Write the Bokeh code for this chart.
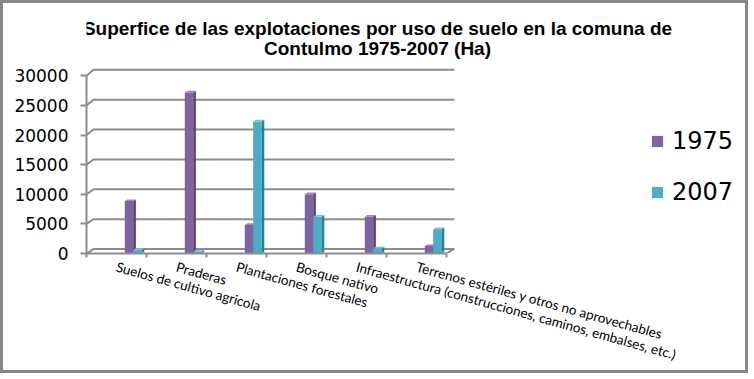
from bokeh.plotting import figure
from bokeh.models import Range1d, FixedTicker, Label, Legend, LegendItem
from bokeh.embed import file_html
from bokeh.resources import INLINE

# ---------------- data ----------------
TITLE_1 = "Superfice de las explotaciones por uso de suelo en la comuna de"
TITLE_2 = "Contulmo 1975-2007 (Ha)"
CATEGORIES = [
    "Suelos de cultivo agricola",
    "Praderas",
    "Plantaciones forestales",
    "Bosque nativo",
    "Infraestructura (construcciones, caminos, embalses, etc.)",
    "Terrenos estériles y otros no aprovechables",
]
SERIES = ["1975", "2007"]
V1975 = [8850, 27200, 4800, 10000, 6200, 1250]
V2007 = [600, 300, 22300, 6200, 850, 4100]
Y_TICKS = [0, 5000, 10000, 15000, 20000, 25000, 30000]

# ---------------- geometry (reference pixels) ----------------
PAGE_OFF = 3           # 3px CSS border
FL, FR, FT, FB = 86, 751, 3, 253
PX_X = 60.0            # px per category
Y_MAX_PX = 75.3        # pixel row of the top tick
PX_Y = (FB - Y_MAX_PX) / Y_TICKS[-1]


def dx(px):
    return (px - FL) / PX_X


def dy(py):
    return (FB - py) / PX_Y


W, H = 748, 373
GRID = "#8c8c8c"
COLORS = {
    "1975": ("#8064A2", "#5C4878", "#9C86BA"),
    "2007": ("#4BACC6", "#2E8096", "#72C3D8"),
}

p = figure(
    width=W, height=H, output_backend="svg", toolbar_location=None,
    x_range=Range1d(dx(FL), dx(FR)), y_range=Range1d(dy(FB), dy(FT)),
    min_border_left=FL - PAGE_OFF, min_border_right=W - (FR - PAGE_OFF),
    min_border_top=FT - PAGE_OFF, min_border_bottom=H - (FB - PAGE_OFF),
    background_fill_color="white", border_fill_color="white",
    outline_line_color=None,
    styles={"border": "3px solid #878787"},
)
p.xgrid.visible = False
p.ygrid.visible = False

n = len(CATEGORIES)
DEPTH_X = 7.0 / PX_X
BACK_END = dx(454)

# back wall gridlines
gx, gy = [], []
for t in Y_TICKS:
    off = (4.4 + 1.6 * t / Y_TICKS[-1]) / PX_Y
    gx.append([0, DEPTH_X, BACK_END])
    gy.append([t, t + off, t + off])
p.multi_line(gx, gy, line_color=GRID, line_width=2)
# floor right edge
off0 = 4.4 / PX_Y
p.segment(x0=[n], y0=[Y_TICKS[0]], x1=[n + DEPTH_X], y1=[Y_TICKS[0] + off0],
          line_color=GRID, line_width=2)

# bars (pseudo 3-D)
BAR_W = 8.4 / PX_X
START = (124.3 - FL) / PX_X
SIDE_DX = 2.7 / PX_X
SIDE_DY = 1.7 / PX_Y
fronts = []
for k, (name, vals) in enumerate(zip(SERIES, [V1975, V2007])):
    front_c, side_c, top_c = COLORS[name]
    left = [i + START + k * BAR_W for i in range(n)]
    right = [l + BAR_W for l in left]
    fr = p.quad(left=left, right=right, bottom=0, top=vals,
                fill_color=front_c, line_color=None)
    fronts.append(fr)
    p.patches(
        xs=[[r, r + SIDE_DX, r + SIDE_DX, r] for r in right],
        ys=[[0, SIDE_DY, v + SIDE_DY, v] for v in vals],
        fill_color=side_c, line_color=None)
    p.patches(
        xs=[[l, r, r + SIDE_DX, l + SIDE_DX] for l, r in zip(left, right)],
        ys=[[v, v, v + SIDE_DY, v + SIDE_DY] for v in vals],
        fill_color=top_c, line_color=None)

# y axis
yax = p.yaxis[0]
yax.ticker = FixedTicker(ticks=Y_TICKS)
yax.bounds = (Y_TICKS[0], Y_TICKS[-1])
yax.axis_line_color = GRID
yax.axis_line_width = 2
yax.major_tick_out = 6
yax.major_tick_in = 0
yax.major_tick_line_color = GRID
yax.major_tick_line_width = 2
yax.minor_tick_line_color = None
yax.major_label_text_font = "DejaVu Sans"
yax.major_label_text_font_size = "17px"
yax.major_label_text_color = "black"
yax.major_label_standoff = 12

# x axis
xax = p.xaxis[0]
xax.ticker = FixedTicker(ticks=[i + 0.5 for i in range(n)],
                         minor_ticks=list(range(n + 1)))
xax.major_label_overrides = {i + 0.5: CATEGORIES[i] for i in range(n)}
xax.major_label_orientation = -0.27
xax.bounds = (0, n)
xax.axis_line_color = GRID
xax.axis_line_width = 2
xax.major_tick_out = 0
xax.major_tick_in = 0
xax.minor_tick_out = 4
xax.minor_tick_in = 0
xax.minor_tick_line_color = GRID
xax.minor_tick_line_width = 2
xax.major_label_text_font = "Lato"
xax.major_label_text_font_size = "13.5px"
xax.major_label_text_color = "black"
xax.major_label_standoff = 9

# title
for txt, base in ((TITLE_1, 27.5), (TITLE_2, 47.5)):
    p.add_layout(Label(x=dx(377), y=dy(base), text=txt, text_align="center",
                       text_baseline="alphabetic", text_font="Liberation Sans",
                       text_font_style="bold", text_font_size="19px",
                       text_color="black"))

# legend
legend = Legend(
    items=[LegendItem(label=s, renderers=[r]) for s, r in zip(SERIES, fronts)],
    location=(650 - FL, FB - 206),
    glyph_width=14, glyph_height=14, label_standoff=8,
    label_text_font="DejaVu Sans", label_text_font_size="24px",
    label_text_color="black",
    padding=0, margin=0, spacing=23,
    border_line_color=None, background_fill_alpha=0,
)
p.add_layout(legend)

open("out.html", "w").write(file_html(p, INLINE))
